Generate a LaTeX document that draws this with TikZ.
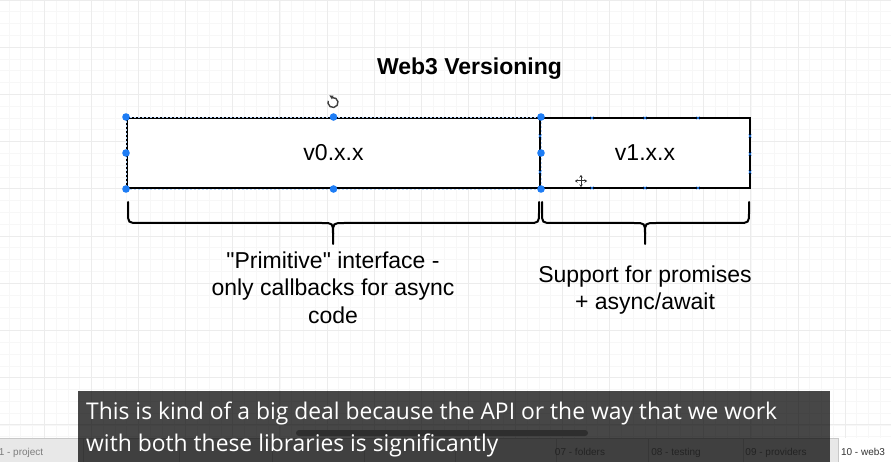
\documentclass[tikz,border=0pt]{standalone}
\usepackage{fontspec}
\usepackage{graphicx}
\setmainfont{Liberation Sans}
\newfontfamily\qfont{Liberation Sans}
\newfontfamily\subfont{Open Sans}
\usetikzlibrary{arrows.meta}
\definecolor{handle}{RGB}{30,125,245}
\definecolor{gridmaj}{RGB}{236,236,236}
\definecolor{gridmin}{RGB}{247,247,247}
\definecolor{tabbg}{RGB}{232,232,232}
\definecolor{tabline}{RGB}{200,200,200}
\definecolor{tabtxt}{RGB}{125,125,125}
\newlength\subw
\newcommand\subtxtA{This is kind of a big deal because the API or the way that we work}
\newcommand\subtxtB{with both these libraries is significantly}
\begin{document}
\settowidth{\subw}{\subfont\fontsize{23}{28}\selectfont\subtxtA}%
\pgfmathsetmacro\subf{691pt/\subw}%
\begin{tikzpicture}[x=1pt,y=-1pt,
  vbox/.style={draw=black,line width=2pt,fill=white,inner sep=0pt,
    minimum height=70pt,font=\fontsize{23}{27.6}\selectfont},
  lbl/.style={align=center,inner sep=0pt,font=\fontsize{23}{27.6}\selectfont},
  brc/.style={draw=black,line width=2pt,line cap=round,line join=round},
  hdl/.style={fill=handle},
  cpt/.style={draw=handle,line width=0.6pt},
  tabtext/.style={inner sep=0pt,anchor=base,text=tabtxt,font=\fontsize{10}{12}\selectfont},
  subline/.style={inner sep=0pt,anchor=base west,text=white}]
\useasboundingbox (0,0) rectangle (891,462);
\fill[white] (0,0) rectangle (891,462);
% grid
\foreach \k in {0,...,76} {\pgfmathsetmacro\xx{-2.8+11.775*\k}
  \draw[gridmin,line width=0.6pt] (\xx,0) -- (\xx,462);}
\foreach \k in {0,...,40} {\pgfmathsetmacro\yy{11.8*\k}
  \draw[gridmin,line width=0.6pt] (0,\yy) -- (891,\yy);}
\foreach \k in {0,...,19} {\pgfmathsetmacro\xx{-2.8+47.1*\k}
  \draw[gridmaj,line width=0.8pt] (\xx,0) -- (\xx,462);}
\foreach \k in {0,...,10} {\pgfmathsetmacro\yy{47.2*\k}
  \draw[gridmaj,line width=0.8pt] (0,\yy) -- (891,\yy);}

% title
\node[inner sep=0pt,anchor=base,font=\bfseries\fontsize{23}{27.6}\selectfont] (title) at (469.5,75) {Web3 Versioning};

% boxes
\node[vbox,minimum width=210pt] (v1) at (645,153) {v1.x.x};
\node[vbox,minimum width=413pt] (v0) at (333.5,153) {v0.x.x};
\draw[white!70!handle,line width=0.6pt,dash pattern=on 2pt off 2pt]
  (v0.north west) rectangle (v0.south east);

% connection points on v1
\foreach \px in {592,645,698} {
  \foreach \py in {118,188} {
    \draw[cpt] (\px-1.5,\py-1.5) -- (\px+1.5,\py+1.5) (\px-1.5,\py+1.5) -- (\px+1.5,\py-1.5);}}
\foreach \py in {136,172} {
  \foreach \px in {540,750} {
    \draw[cpt] (\px-1.5,\py-1.5) -- (\px+1.5,\py+1.5) (\px-1.5,\py+1.5) -- (\px+1.5,\py-1.5);}}
\draw[cpt] (750-1.5,154-1.5) -- (750+1.5,154+1.5) (750-1.5,154+1.5) -- (750+1.5,154-1.5);

% selection handles
\foreach \p in {v0.north west,v0.north,v0.north east,v0.west,v0.east,v0.south west,v0.south,v0.south east}
  \fill[hdl] (\p) circle (3.8pt);

% rotation handle
\coordinate (rot) at (333,102.5);
\draw[black!75,line width=1.4pt]
  ([shift={(-100:5)}]rot) arc[start angle=-100,end angle=200,radius=5];
\fill[black!75] ([shift={(-100:5)}]rot) ++(-2.8,-2.2) -- ++(4.2,0.4) -- ++(-1.6,3.6) -- cycle;

% move cursor
\coordinate (mv) at (581,181);
\draw[black!80,line width=1pt,{Stealth[length=2.5pt,width=3.5pt]}-{Stealth[length=2.5pt,width=3.5pt]}]
  ([xshift=-6]mv) -- ([xshift=6]mv);
\draw[black!80,line width=1pt,{Stealth[length=2.5pt,width=3.5pt]}-{Stealth[length=2.5pt,width=3.5pt]}]
  ([yshift=-6]mv) -- ([yshift=6]mv);

% braces
\coordinate (lb1) at (128,202);
\coordinate (lb2) at (539,202);
\coordinate (ltip) at (333,244);
\coordinate (rb1) at (542,202);
\coordinate (rb2) at (749,202);
\coordinate (rtip) at (645,244);
\draw[brc] (lb1) -- (128,212) .. controls (128,223) .. (139,223) -- (322,223)
  .. controls (333,223) .. (333,234) -- (ltip);
\draw[brc] (lb2) -- (539,212) .. controls (539,223) .. (528,223) -- (344,223)
  .. controls (333,223) .. (333,234);
\draw[brc] (rb1) -- (542,212) .. controls (542,223) .. (553,223) -- (634,223)
  .. controls (645,223) .. (645,234) -- (rtip);
\draw[brc] (rb2) -- (749,212) .. controls (749,223) .. (738,223) -- (656,223)
  .. controls (645,223) .. (645,234);

% labels
\node[lbl,anchor=north] (lt) at (333,251.5) {\qfont "Primitive" interface -\\only callbacks for async\\code};
\node[lbl,anchor=north] (rt) at (645,265.5) {Support for promises\\+ async/await};

% tab bar
\fill[tabbg] (0,438) rectangle (891,462);
\draw[tabline,line width=0.8pt] (0,438) -- (838,438);
\fill[white] (838,438) rectangle (891,462);
\foreach \sx in {83,179,272,364,455,556,648,743,838}
  \draw[tabline,line width=0.8pt] (\sx,438) -- (\sx,462);
\node[tabtext] (t1) at (21,455) {1 - project};
\node[tabtext] (t7) at (580,455) {07 - folders};
\node[tabtext] (t8) at (676,455) {08 - testing};
\node[tabtext] (t9) at (776,455) {09 - providers};
\node[tabtext,text=black!80] (t10) at (863,455) {10 - web3};

% scrollbar
\fill[black!35,rounded corners=3pt] (296,430) rectangle (588,436);

% subtitle overlay
\fill[black,opacity=0.72] (78,391) rectangle (830,462);
\node[subline] (s1) at (86,419) {\scalebox{\subf}[1]{\subfont\fontsize{23}{28}\selectfont\subtxtA}};
\node[subline] (s2) at (86,451) {\scalebox{\subf}[1]{\subfont\fontsize{23}{28}\selectfont\subtxtB}};
\end{tikzpicture}
\end{document}
